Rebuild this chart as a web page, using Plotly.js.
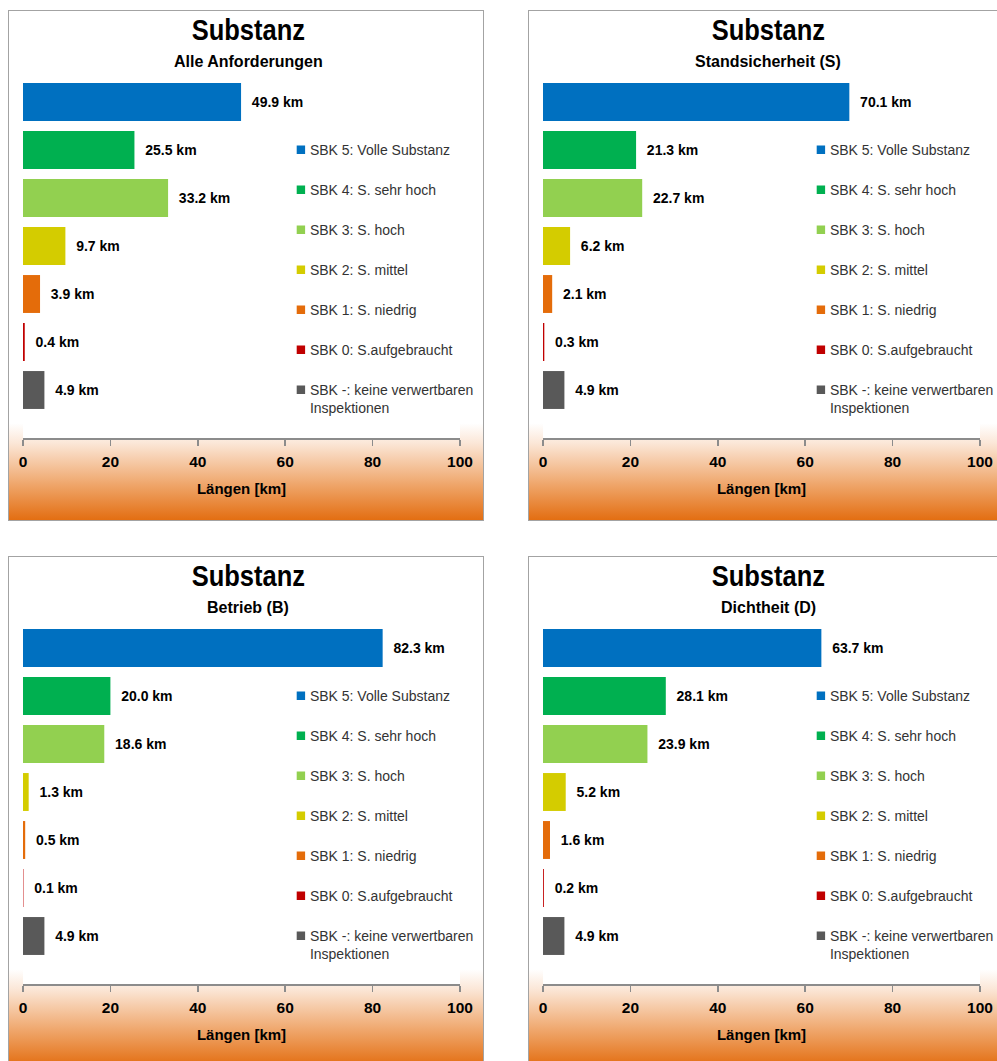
<!DOCTYPE html>
<html>
<head>
<meta charset="utf-8">
<script src="https://cdn.plot.ly/plotly-3.0.1.min.js"></script>
<style>
  html, body { margin:0; padding:0; width:997px; height:1061px; overflow:hidden; background:#fff; }
  .panelbg { position:absolute; width:476px; height:511px; box-sizing:border-box; border:1.5px solid #a3a3a3;
        background: linear-gradient(to bottom, #ffffff 0%, #ffffff 81%, #fbe6d6 85%, #efa66b 93%, #e36e12 100%); }
  .panelplot { position:absolute; width:476px; height:511px; }
  .panelplot text.gtitle { transform-box: fill-box; transform-origin: center; transform: scaleX(0.85); }
  .panelplot .legendpoints path { transform: translate(31px, 0px) scale(0.7); }
</style>
</head>
<body>
<div class="panelbg" style="left:8px;top:10px"></div>
<div class="panelbg" style="left:528px;top:10px"></div>
<div class="panelbg" style="left:8px;top:556px"></div>
<div class="panelbg" style="left:528px;top:556px"></div>
<div id="p1" class="panelplot" style="left:8px;top:10px"></div>
<div id="p2" class="panelplot" style="left:528px;top:10px"></div>
<div id="p3" class="panelplot" style="left:8px;top:556px"></div>
<div id="p4" class="panelplot" style="left:528px;top:556px"></div>
<script>
// ---- data ----
const categories = [
  "SBK 5: Volle Substanz",
  "SBK 4: S. sehr hoch",
  "SBK 3: S. hoch",
  "SBK 2: S. mittel",
  "SBK 1: S. niedrig",
  "SBK 0: S.aufgebraucht",
  "SBK -: keine verwertbaren<br>Inspektionen"
];
const colors = ["#0070C0", "#00B050", "#92D050", "#D4CC00", "#E46C0A", "#C00000", "#595959"];
const mainTitle = "Substanz";
const subtitles = ["Alle Anforderungen", "Standsicherheit (S)", "Betrieb (B)", "Dichtheit (D)"];
const valuesAlle = [49.9, 25.5, 33.2, 9.7, 3.9, 0.4, 4.9];
const valuesStand = [70.1, 21.3, 22.7, 6.2, 2.1, 0.3, 4.9];
const valuesBetrieb = [82.3, 20.0, 18.6, 1.3, 0.5, 0.1, 4.9];
const valuesDicht = [63.7, 28.1, 23.9, 5.2, 1.6, 0.2, 4.9];
const xTicks = [0, 20, 40, 60, 80, 100];
const xTitle = "Längen [km]";
const unit = "km";

const SANS = "'Liberation Sans', Arial, sans-serif";

function draw(id, subtitle, values) {
  const traces = categories.map((c, i) => ({
    type: 'bar',
    orientation: 'h',
    x: [values[i]],
    y: [c],
    name: c,
    legendgroup: 'g' + i,
    marker: { color: colors[i] },
    width: 0.79,
    texttemplate: '\u00a0\u00a0%{x:.1f} ' + unit,
    textposition: 'outside',
    constraintext: 'none',
    cliponaxis: false,
    textfont: { family: SANS, size: 14, color: '#000', weight: 'bold' },
    hoverinfo: 'skip'
  }));
  const layout = {
    width: 476, height: 511,
    margin: { l: 15, r: 24, t: 68, b: 83, autoexpand: false },
    paper_bgcolor: 'rgba(0,0,0,0)',
    plot_bgcolor: '#ffffff',
    barmode: 'overlay',
    showlegend: true,
    title: {
      text: mainTitle,
      font: { family: SANS, size: 30, color: '#000', weight: 'bold' },
      x: 0.505, xref: 'container', xanchor: 'center',
      y: 0.962, yref: 'container', yanchor: 'middle'
    },
    annotations: [{
      text: subtitle, xref: 'paper', yref: 'paper', x: 0.515, y: 1.047,
      xanchor: 'center', yanchor: 'middle', showarrow: false,
      font: { family: SANS, size: 16, color: '#000', weight: 'bold' }
    }],
    legend: {
      x: 0.565, xanchor: 'left', y: 0.844, yanchor: 'top',
      traceorder: 'grouped', tracegroupgap: 18.8, valign: 'top',
      bgcolor: 'rgba(0,0,0,0)',
      font: { family: SANS, size: 14, color: '#333' }
    },
    xaxis: {
      range: [0, 100], tickvals: xTicks, ticks: 'outside', ticklen: 6, tickwidth: 1.5,
      tickcolor: '#8c8c8c', showline: true, linecolor: '#8c8c8c', linewidth: 1.5,
      showgrid: false, zeroline: false, fixedrange: true,
      ticklabelstandoff: 3,
      tickfont: { family: SANS, size: 15.5, color: '#000', weight: 'bold' },
      title: { text: xTitle, standoff: 14, font: { family: SANS, size: 15, color: '#000', weight: 'bold' } },
      automargin: false
    },
    yaxis: {
      type: 'category', categoryarray: categories, range: [7.0, -0.5],
      visible: false, fixedrange: true
    }
  };
  Plotly.newPlot(id, traces, layout, { staticPlot: true, displayModeBar: false });
}
draw('p1', subtitles[0], valuesAlle);
draw('p2', subtitles[1], valuesStand);
draw('p3', subtitles[2], valuesBetrieb);
draw('p4', subtitles[3], valuesDicht);
</script>
</body>
</html>
